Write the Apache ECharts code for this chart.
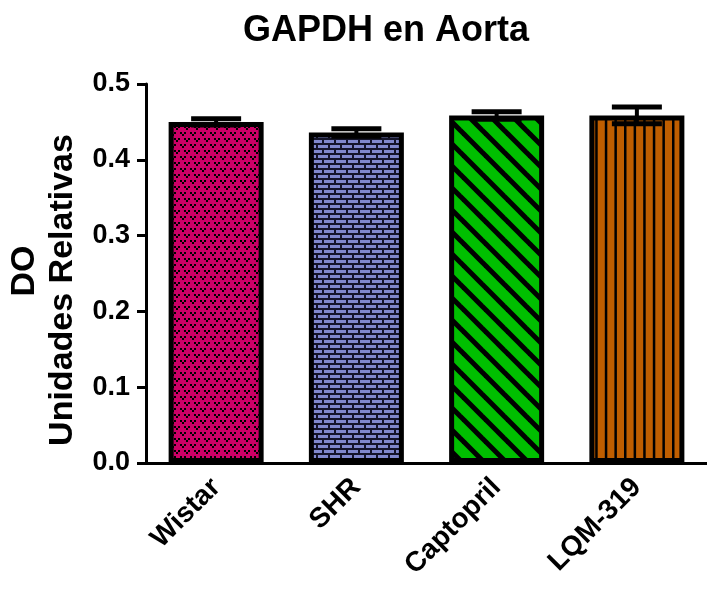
<!DOCTYPE html>
<html>
<head>
<meta charset="utf-8">
<script src="https://cdn.jsdelivr.net/npm/echarts@6/dist/echarts.min.js"></script>
<style>
html,body{margin:0;padding:0;background:#fff;}
#chart{width:707px;height:590px;}
</style>
</head>
<body>
<div id="chart"></div>
<script>
// ---- data ----
const categories = ['Wistar', 'SHR', 'Captopril', 'LQM-319'];
const means = [0.450, 0.436, 0.4585, 0.4585];
const sems = [0.004, 0.005, 0.005, 0.011];
const titleText = 'GAPDH en Aorta';
const yNameLine1 = 'DO';
const yNameLine2 = 'Unidades Relativas';

// ---- patterns ----
function makePattern(w, h, draw) {
  const c = document.createElement('canvas');
  c.width = w; c.height = h;
  const ctx = c.getContext('2d');
  draw(ctx, w, h);
  return { image: c, repeat: 'repeat' };
}
const patWistar = makePattern(10, 12, (ctx, w, h) => {
  ctx.fillStyle = '#CC0066'; ctx.fillRect(0, 0, w, h);
  ctx.fillStyle = '#000';
  const v = (x, y) => { ctx.fillRect(x, y, 2, 2); ctx.fillRect(x + 4, y, 2, 2); ctx.fillRect(x + 2, y + 2, 2, 2); };
  v(0, 0); v(4, 6);
});
const patSHR = makePattern(12, 10, (ctx, w, h) => {
  ctx.fillStyle = '#14142a'; ctx.fillRect(0, 0, w, h);
  ctx.fillStyle = '#8088CC';
  ctx.fillRect(0, 0, 10, 3);
  ctx.fillRect(6, 5, 6, 3); ctx.fillRect(0, 5, 4, 3);
});
const patCapto = makePattern(22, 22, (ctx, w, h) => {
  ctx.fillStyle = '#00BF00'; ctx.fillRect(0, 0, w, h);
  ctx.strokeStyle = '#000'; ctx.lineWidth = 5;
  for (const x0 of [-22, 0, 22]) {
    ctx.beginPath(); ctx.moveTo(x0 - 3, -3); ctx.lineTo(x0 + 25, 25); ctx.stroke();
  }
});
const patLQM = makePattern(48, 4, (ctx, w, h) => {
  ctx.fillStyle = '#BF5E00'; ctx.fillRect(0, 0, w, h);
  ctx.fillStyle = '#000';
  for (let i = 0; i < 5; i++) ctx.fillRect(i * 9.6, 0, 2.5, h);
});
const patterns = [patWistar, patSHR, patCapto, patLQM];

const FONT = "'Liberation Sans', Arial, sans-serif";
const chart = echarts.init(document.getElementById('chart'), null, { renderer: 'canvas' });

const option = {
  backgroundColor: '#fff',
  animation: false,
  grid: { left: 146, top: 84, width: 572, height: 379, containLabel: false },
  xAxis: {
    type: 'category',
    data: categories,
    axisLine: { lineStyle: { color: '#000', width: 3 } },
    axisTick: { alignWithLabel: true, length: 10, lineStyle: { color: '#000', width: 3 } },
    axisLabel: { rotate: 45, margin: 20, color: '#000', fontSize: 28, fontWeight: 'bold', fontFamily: FONT, interval: 0 }
  },
  yAxis: {
    type: 'value',
    min: 0, max: 0.5, interval: 0.1,
    splitLine: { show: false },
    axisLine: { show: true, lineStyle: { color: '#000', width: 3 } },
    axisTick: { show: true, length: 9, lineStyle: { color: '#000', width: 3 } },
    axisLabel: { margin: 16, color: '#000', fontSize: 27, fontWeight: 'bold', fontFamily: FONT, formatter: v => v.toFixed(1) }
  },
  graphic: [
    { type: 'text', x: 386, y: 31, style: { text: titleText, fill: '#000', font: 'bold 36px ' + FONT, textAlign: 'center', textVerticalAlign: 'middle' } },
    { type: 'text', x: 25, y: 271, rotation: Math.PI / 2, style: { text: yNameLine1, fill: '#000', font: 'bold 34px ' + FONT, textAlign: 'center', textVerticalAlign: 'middle' } },
    { type: 'text', x: 63, y: 290, rotation: Math.PI / 2, style: { text: yNameLine2, fill: '#000', font: 'bold 34px ' + FONT, textAlign: 'center', textVerticalAlign: 'middle' } }
  ],
  series: [
    {
      type: 'bar',
      barWidth: 95,
      data: means.map((m, i) => ({ value: m, itemStyle: { color: patterns[i] } })),
      itemStyle: { borderColor: '#000', borderWidth: 5 },
      z: 2
    },
    {
      type: 'custom',
      z: 5,
      data: means.map((m, i) => [i, m - sems[i], m + sems[i]]),
      renderItem: function (params, api) {
        const i = api.value(0);
        const lo = api.coord([i, api.value(1)]);
        const hi = api.coord([i, api.value(2)]);
        const hw = 25;
        const st = { stroke: '#000', lineWidth: 5 };
        return {
          type: 'group',
          children: [
            { type: 'line', shape: { x1: hi[0], y1: hi[1], x2: lo[0], y2: lo[1] }, style: { stroke: '#000', lineWidth: 4 } },
            { type: 'line', shape: { x1: hi[0] - hw, y1: hi[1], x2: hi[0] + hw, y2: hi[1] }, style: st },
            { type: 'line', shape: { x1: lo[0] - hw, y1: lo[1], x2: lo[0] + hw, y2: lo[1] }, style: st }
          ]
        };
      }
    }
  ]
};
chart.setOption(option);
</script>
</body>
</html>
